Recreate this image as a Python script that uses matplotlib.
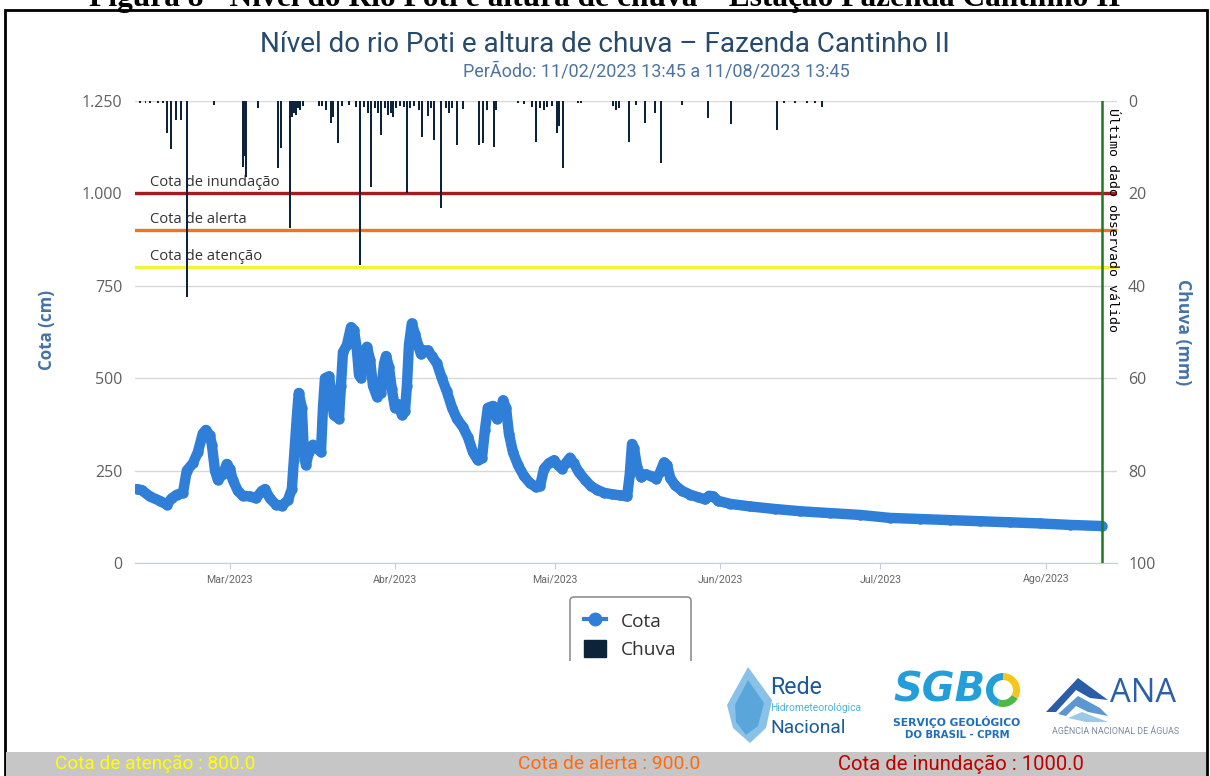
import matplotlib
matplotlib.use("Agg")
import matplotlib.pyplot as plt
import pandas as pd
from matplotlib.patches import Rectangle, Polygon, Wedge, Patch
from matplotlib.lines import Line2D
from matplotlib.ticker import FixedLocator, FuncFormatter
from matplotlib.transforms import Bbox, TransformedBbox

# ---- dados ----
cota_datas = [
    "2023-02-11 14:00", "2023-02-12 12:00", "2023-02-14 00:00", "2023-02-15 21:00", "2023-02-17 05:00",
    "2023-02-18 02:00", "2023-02-19 02:00", "2023-02-20 05:00", "2023-02-20 22:00", "2023-02-22 02:00",
    "2023-02-23 00:00", "2023-02-23 22:00", "2023-02-24 12:00", "2023-02-25 06:00", "2023-02-25 15:00",
    "2023-02-26 05:00", "2023-02-26 18:00", "2023-02-27 17:00", "2023-02-28 10:00", "2023-03-01 00:00",
    "2023-03-01 13:00", "2023-03-02 12:00", "2023-03-03 10:00", "2023-03-04 18:00", "2023-03-05 21:00",
    "2023-03-07 00:00", "2023-03-07 14:00", "2023-03-08 12:00", "2023-03-09 15:00", "2023-03-10 18:00",
    "2023-03-11 21:00", "2023-03-12 15:00", "2023-03-13 00:00", "2023-03-13 14:00", "2023-03-13 22:00",
    "2023-03-14 12:00", "2023-03-14 21:00", "2023-03-15 06:00", "2023-03-15 20:00", "2023-03-16 14:00",
    "2023-03-17 08:00", "2023-03-18 02:00", "2023-03-18 11:00", "2023-03-18 20:00", "2023-03-19 14:00",
    "2023-03-19 23:00", "2023-03-20 12:00", "2023-03-21 11:00", "2023-03-21 20:00", "2023-03-22 05:00",
    "2023-03-22 23:00", "2023-03-23 17:00", "2023-03-24 07:00", "2023-03-24 20:00", "2023-03-25 05:00",
    "2023-03-25 14:00", "2023-03-26 03:00", "2023-03-26 17:00", "2023-03-27 07:00", "2023-03-27 20:00",
    "2023-03-28 14:00", "2023-03-29 08:00", "2023-03-29 22:00", "2023-03-30 07:00", "2023-03-30 20:00",
    "2023-03-31 09:00", "2023-03-31 23:00", "2023-04-01 12:00", "2023-04-02 07:00", "2023-04-02 20:00",
    "2023-04-03 05:00", "2023-04-03 14:00", "2023-04-04 03:00", "2023-04-04 17:00", "2023-04-05 07:00",
    "2023-04-05 20:00", "2023-04-06 09:00", "2023-04-07 03:00", "2023-04-07 21:00", "2023-04-08 20:00",
    "2023-04-09 18:00", "2023-04-10 16:00", "2023-04-11 16:00", "2023-04-12 14:00", "2023-04-13 17:00",
    "2023-04-14 16:00", "2023-04-15 14:00", "2023-04-16 12:00", "2023-04-17 07:00", "2023-04-17 20:00",
    "2023-04-18 09:00", "2023-04-19 08:00", "2023-04-20 02:00", "2023-04-20 16:00", "2023-04-21 05:00",
    "2023-04-21 19:00", "2023-04-22 08:00", "2023-04-23 02:00", "2023-04-24 01:00", "2023-04-25 04:00",
    "2023-04-26 07:00", "2023-04-27 10:00", "2023-04-28 04:00", "2023-04-28 22:00", "2023-04-29 20:00",
    "2023-04-30 19:00", "2023-05-01 12:00", "2023-05-02 07:00", "2023-05-03 00:00", "2023-05-03 19:00",
    "2023-05-04 12:00", "2023-05-05 11:00", "2023-05-06 15:00", "2023-05-07 17:00", "2023-05-08 21:00",
    "2023-05-10 04:00", "2023-05-11 16:00", "2023-05-13 04:00", "2023-05-14 12:00", "2023-05-15 00:00",
    "2023-05-15 10:00", "2023-05-15 19:00", "2023-05-16 09:00", "2023-05-17 03:00", "2023-05-18 00:00",
    "2023-05-19 00:00", "2023-05-19 22:00", "2023-05-20 16:00", "2023-05-21 10:00", "2023-05-22 00:00",
    "2023-05-22 14:00", "2023-05-23 12:00", "2023-05-24 20:00", "2023-05-26 07:00", "2023-05-27 19:00",
    "2023-05-29 03:00", "2023-05-29 21:00", "2023-05-30 15:00", "2023-05-31 14:00", "2023-06-02 20:00",
    "2023-06-06 14:00", "2023-06-11 07:00", "2023-06-16 00:00", "2023-06-21 14:00", "2023-06-27 05:00",
    "2023-07-02 19:00", "2023-07-08 12:00", "2023-07-14 02:00", "2023-07-19 17:00", "2023-07-25 07:00",
    "2023-07-31 00:00", "2023-08-05 14:00", "2023-08-11 13:45",
]
cota_cm = [
    200, 197, 180, 168, 158,
    175, 185, 190, 250, 270,
    300, 350, 360, 345, 320,
    250, 225, 240, 268, 255,
    225, 195, 182, 180, 175,
    195, 200, 175, 158, 155,
    170, 200, 280, 400, 460,
    420, 300, 265, 300, 320,
    310, 300, 420, 500, 505,
    470, 400, 390, 480, 570,
    590, 638, 630, 575, 510,
    500, 570, 585, 550, 480,
    450, 460, 540, 560, 530,
    470, 420, 430, 400, 410,
    480, 590, 648, 620, 590,
    565, 575, 575, 560, 540,
    500, 465, 420, 390, 368,
    340, 300, 278, 285, 360,
    420, 425, 390, 400, 440,
    420, 350, 300, 265, 235,
    216, 205, 208, 255, 270,
    278, 265, 255, 270, 285,
    270, 245, 225, 208, 198,
    190, 186, 183, 180, 240,
    322, 310, 260, 232, 240,
    235, 228, 245, 272, 265,
    230, 210, 195, 185, 178,
    172, 182, 180, 168, 160,
    153, 146, 140, 135, 130,
    122, 119, 116, 113, 110,
    107, 103, 100,
]

chuva_datas = [
    "2023-02-12 03:00", "2023-02-13 05:00", "2023-02-14 00:00", "2023-02-15 12:00", "2023-02-16 10:00",
    "2023-02-17 04:00", "2023-02-17 22:00", "2023-02-18 21:00", "2023-02-19 19:00", "2023-02-20 22:00",
    "2023-02-26 00:00", "2023-03-03 10:00", "2023-03-03 15:00", "2023-03-04 00:00", "2023-03-06 06:00",
    "2023-03-10 00:00", "2023-03-10 14:00", "2023-03-12 06:00", "2023-03-12 15:00", "2023-03-13 00:00",
    "2023-03-13 09:00", "2023-03-13 18:00", "2023-03-14 03:00", "2023-03-14 17:00", "2023-03-17 17:00",
    "2023-03-18 06:00", "2023-03-19 00:00", "2023-03-19 23:00", "2023-03-20 08:00", "2023-03-21 06:00",
    "2023-03-22 00:00", "2023-03-23 08:00", "2023-03-24 15:00", "2023-03-25 09:00", "2023-03-26 03:00",
    "2023-03-26 21:00", "2023-03-27 11:00", "2023-03-28 05:00", "2023-03-28 18:00", "2023-03-29 08:00",
    "2023-03-30 02:00", "2023-03-30 15:00", "2023-03-31 05:00", "2023-03-31 14:00", "2023-04-01 03:00",
    "2023-04-01 21:00", "2023-04-02 15:00", "2023-04-03 04:00", "2023-04-03 19:00", "2023-04-04 12:00",
    "2023-04-05 11:00", "2023-04-06 00:00", "2023-04-07 03:00", "2023-04-07 16:00", "2023-04-08 06:00",
    "2023-04-09 14:00", "2023-04-10 12:00", "2023-04-11 02:00", "2023-04-11 16:00", "2023-04-12 14:00",
    "2023-04-13 17:00", "2023-04-16 17:00", "2023-04-17 11:00", "2023-04-18 05:00", "2023-04-19 13:00",
    "2023-04-19 22:00", "2023-04-24 01:00", "2023-04-25 04:00", "2023-04-26 16:00", "2023-04-27 10:00",
    "2023-04-28 04:00", "2023-04-28 22:00", "2023-04-29 12:00", "2023-04-30 10:00", "2023-05-01 08:00",
    "2023-05-01 17:00", "2023-05-02 12:00", "2023-05-05 07:00", "2023-05-05 20:00", "2023-05-11 21:00",
    "2023-05-12 10:00", "2023-05-13 00:00", "2023-05-14 21:00", "2023-05-16 05:00", "2023-05-17 21:00",
    "2023-05-19 17:00", "2023-05-20 21:00", "2023-05-24 20:00", "2023-05-29 17:00", "2023-06-03 00:00",
    "2023-06-11 15:00", "2023-06-12 22:00", "2023-06-15 00:00", "2023-06-17 07:00", "2023-06-18 19:00",
    "2023-06-20 02:00",
]
chuva_mm = [
    0.4, 0.4, 0.4, 0.4, 0.5,
    6.9, 10.4, 4.1, 4.1, 42.4,
    0.9, 14.3, 12.0, 16.5, 1.5,
    14.5, 10.2, 27.5, 3.5, 2.5,
    3.0, 1.5, 2.0, 1.0, 1.0,
    1.0, 2.0, 4.8, 3.5, 9.1,
    1.0, 0.8, 1.3, 35.5, 1.2,
    2.5, 18.6, 1.5, 2.5, 7.4,
    1.5, 3.0, 2.5, 3.5, 1.5,
    1.0, 1.2, 19.9, 1.5, 1.0,
    2.0, 7.8, 3.2, 1.5, 8.4,
    23.2, 1.5, 2.5, 1.5, 9.5,
    1.8, 9.5, 9.1, 2.0, 10.0,
    2.0, 0.5, 0.7, 1.2, 8.9,
    1.5, 2.0, 1.2, 1.0, 6.9,
    5.5, 14.5, 0.5, 0.4, 1.0,
    2.0, 1.5, 8.9, 0.8, 4.8,
    2.6, 13.4, 0.8, 3.7, 5.0,
    6.3, 0.4, 0.5, 0.4, 0.5,
    1.2,
]

meses = ["2023-03-01", "2023-04-01", "2023-05-01", "2023-06-01", "2023-07-01", "2023-08-01"]
meses_rotulos = ["Mar/2023", "Abr/2023", "Mai/2023", "Jun/2023", "Jul/2023", "Ago/2023"]
cota_ticks = [0, 250, 500, 750, 1000, 1250]
chuva_ticks = [0, 20, 40, 60, 80, 100]
niveis = [1000, 900, 800]
niveis_nomes = ["Cota de inundação", "Cota de alerta", "Cota de atenção"]
niveis_cores = ["#a61c1c", "#f2741c", "#f4f434"]
ultimo_dado = "2023-08-11 13:45"
inicio, fim = "2023-02-11 05:00", "2023-08-14 09:00"

NARROW = ["Liberation Sans Narrow", "Roboto", "DejaVu Sans"]
W, H = 1210, 776

fig = plt.figure(figsize=(W / 100, H / 100), dpi=100)
fig.patch.set_facecolor("white")
px = fig.dpi_scale_trans  # coordenadas em polegadas (1 pol = 100 px)


def P(x, y):
    return (x / 100, (H - y) / 100)


def fit(t, width):
    r = fig.canvas.get_renderer()
    w = t.get_window_extent(r).width
    t.set_fontsize(t.get_fontsize() * width / w)


# cabecalho cortado e moldura
t = fig.text(605 / W, 1 - 6 / H, "Figura 8 - Nível do Rio Poti e altura de chuva – Estação Fazenda Cantinho II",
             ha="center", va="baseline", family="Liberation Serif", weight="bold", fontsize=15)
fit(t, 1030)
fig.add_artist(Rectangle(P(5, 790), 1202 / 100, 780 / 100, transform=px, fill=False,
                         edgecolor="black", lw=2.0))
fig.add_artist(Rectangle(P(6, 776), 1200 / 100, 24 / 100, transform=px, facecolor="#c6c6c6",
                         edgecolor="none"))

# eixos
ax = fig.add_axes([135 / W, 1 - 563 / H, (1117 - 135) / W, (563 - 101) / H])
ax2 = ax.twinx()

x_cota = pd.to_datetime(cota_datas)
x_chuva = pd.to_datetime(chuva_datas)

for lvl, nome, cor in zip(niveis, niveis_nomes, niveis_cores):
    ax.axhline(lvl, color=cor, lw=2.4, zorder=2)
    ax.annotate(nome, xy=(0.015, lvl), xycoords=ax.get_yaxis_transform(), xytext=(0, 2.5),
                textcoords="offset points", ha="left", va="bottom", fontsize=10.6,
                family="Open Sans", color="#333333")

ax.plot(x_cota, cota_cm, color="#2f7ed8", lw=7.5, marker="o", ms=7.5, markeredgewidth=0,
        solid_joinstyle="round", solid_capstyle="round", zorder=3)

ax2.bar(x_chuva, chuva_mm, width=0.3, color="#0d233a", zorder=3)
ax2.axvline(pd.Timestamp(ultimo_dado), color="#1f7a1f", lw=1.8, zorder=4)
ax2.annotate("Último dado observado válido", xy=(pd.Timestamp(ultimo_dado), 0), xycoords="data",
             xytext=(2.5, -5), textcoords="offset points", rotation=-90, ha="left", va="top",
             family="DejaVu Sans Mono", fontsize=9.5, color="black")

ax.set_xlim(pd.Timestamp(inicio), pd.Timestamp(fim))
ax.set_ylim(0, 1250)
ax2.set_ylim(100, 0)

ax.yaxis.set_major_locator(FixedLocator(cota_ticks))
ax.yaxis.set_major_formatter(FuncFormatter(lambda v, p: f"{int(v):,}".replace(",", ".")))
ax2.yaxis.set_major_locator(FixedLocator(chuva_ticks))
ax.set_xticks(pd.to_datetime(meses))
ax.set_xticklabels(meses_rotulos)

ax.grid(axis="y", color="#d8d8d8", lw=1)
ax.set_axisbelow(True)
for a in (ax, ax2):
    for s in a.spines.values():
        s.set_visible(False)
ax.spines["bottom"].set_visible(True)
ax.spines["bottom"].set_color("#c0d0e0")

ax.tick_params(axis="y", length=0, pad=9, labelcolor="#606060", labelsize=11.5)
ax2.tick_params(axis="y", length=0, pad=8, labelcolor="#606060", labelsize=11.5)
ax.tick_params(axis="x", length=4, color="#c0d0e0", pad=4, labelcolor="#666666", labelsize=7.6)
for lb in ax.get_xticklabels():
    lb.set_family(NARROW)
for lb in ax.get_yticklabels() + ax2.get_yticklabels():
    lb.set_family("Open Sans")

# titulos
t = fig.text(605 / W, 1 - 45 / H, "Nível do rio Poti e altura de chuva – Fazenda Cantinho II",
             ha="center", va="center", family=NARROW, fontsize=16, color="#274b6d")
fit(t, 693)
t = fig.text(656 / W, 1 - 72 / H, "PerÃodo: 11/02/2023 13:45 a 11/08/2023 13:45",
             ha="center", va="center", family=NARROW, fontsize=10, color="#4d759e")
fit(t, 386)
fig.text(47 / W, 1 - 330 / H, "Cota (cm)", rotation=90, ha="center", va="center",
         family="Open Sans", weight="bold", fontsize=12.2, color="#4572a7")
fig.text(1183 / W, 1 - 332 / H, "Chuva (mm)", rotation=270, ha="center", va="center",
         family="Open Sans", weight="bold", fontsize=12.6, color="#4572a7")

# legenda (caixa cortada embaixo, como no original)
handles = [Line2D([0], [0], color="#2f7ed8", lw=3, marker="o", ms=9),
           Patch(facecolor="#0d233a", edgecolor="#0d233a")]
leg = fig.legend(handles, ["Cota", "Chuva"], loc="upper left", bbox_to_anchor=(570 / W, 1 - 597 / H),
                 frameon=True, fancybox=True, edgecolor="#909090", framealpha=1,
                 handlelength=1.15, handleheight=1.0, labelspacing=0.5, borderpad=0.75,
                 borderaxespad=0, handletextpad=0.75, prop={"family": "Open Sans", "size": 13.8})
for tx in leg.get_texts():
    tx.set_color("#333333")
leg.get_frame().set_linewidth(1.2)
leg.get_frame().set_clip_box(TransformedBbox(Bbox([[0, (H - 661) / H], [1, 1]]), fig.transFigure))

# logos
fig.add_artist(Polygon([P(748, 667), P(772, 700), P(766, 728), P(750, 743), P(733, 728), P(727, 705)],
                       closed=True, transform=px, facecolor="#7dbbe6", edgecolor="none", alpha=0.9))
fig.add_artist(Polygon([P(748, 680), P(764, 703), P(758, 726), P(746, 735), P(736, 722), P(735, 705)],
                       closed=True, transform=px, facecolor="#4f9fd6", edgecolor="none", alpha=0.8))
t = fig.text(770 / W, 1 - 688 / H, "Rede", ha="left", va="center", family=NARROW, fontsize=22,
             color="#1b5a9a")
fit(t, 52)
t = fig.text(770 / W, 1 - 708 / H, "Hidrometeorológica", ha="left", va="center", family=NARROW,
             fontsize=6, color="#4ab0e0")
fit(t, 92)
t = fig.text(770 / W, 1 - 728 / H, "Nacional", ha="left", va="center", family=NARROW, fontsize=22,
             color="#1b5a9a")
fit(t, 75)

t = fig.text(893 / W, 1 - 691 / H, "SGB", ha="left", va="center", family="DejaVu Sans",
             weight="heavy", style="italic", fontsize=26, color="#239ed9")
fit(t, 92)
for a1, a2, cor in [(90, 250, "#239ed9"), (250, 330, "#4cb848"), (330, 450, "#f5c518")]:
    fig.add_artist(Wedge(P(1003, 690), 0.17, a1, a2, width=0.07, transform=px, facecolor=cor,
                         edgecolor="none"))
t = fig.text(957 / W, 1 - 722 / H, "SERVIÇO GEOLÓGICO", ha="center", va="center",
             family="DejaVu Sans", weight="bold", fontsize=7, color="#1f6fb8")
fit(t, 128)
t = fig.text(957 / W, 1 - 735 / H, "DO BRASIL - CPRM", ha="center", va="center",
             family="DejaVu Sans", weight="bold", fontsize=7, color="#1f6fb8")
fit(t, 105)

fig.add_artist(Polygon([P(1046, 712), P(1078, 678), P(1108, 700), P(1090, 698), P(1076, 690), P(1056, 712)],
                       closed=True, transform=px, facecolor="#2a5ca8", edgecolor="none"))
fig.add_artist(Polygon([P(1058, 714), P(1078, 696), P(1100, 708), P(1108, 716), P(1088, 712), P(1076, 706),
                        P(1066, 716)], closed=True, transform=px, facecolor="#5d97d2", edgecolor="none"))
fig.add_artist(Polygon([P(1068, 718), P(1082, 712), P(1108, 722), P(1086, 722)], closed=True,
                       transform=px, facecolor="#9cc8ea", edgecolor="none"))
t = fig.text(1110 / W, 1 - 693 / H, "ANA", ha="left", va="center", family="Open Sans", fontsize=20,
             color="#2d5fa8")
fit(t, 66)
t = fig.text(1116 / W, 1 - 731 / H, "AGÊNCIA NACIONAL DE ÁGUAS", ha="center", va="center",
             family=NARROW, fontsize=5, color="#7a8aa0")
fit(t, 128)

# faixa inferior
for cx, texto, cor, larg in [(155, "Cota de atenção : 800.0", "#ffff00", 200),
                             (609, "Cota de alerta : 900.0", "#ff6a10", 182),
                             (961, "Cota de inundação : 1000.0", "#c00000", 245)]:
    t = fig.text(cx / W, 1 - 764 / H, texto, ha="center", va="center", family=NARROW,
                 fontsize=12, color=cor)
    fit(t, larg)

fig.savefig("out.png", dpi=100)
